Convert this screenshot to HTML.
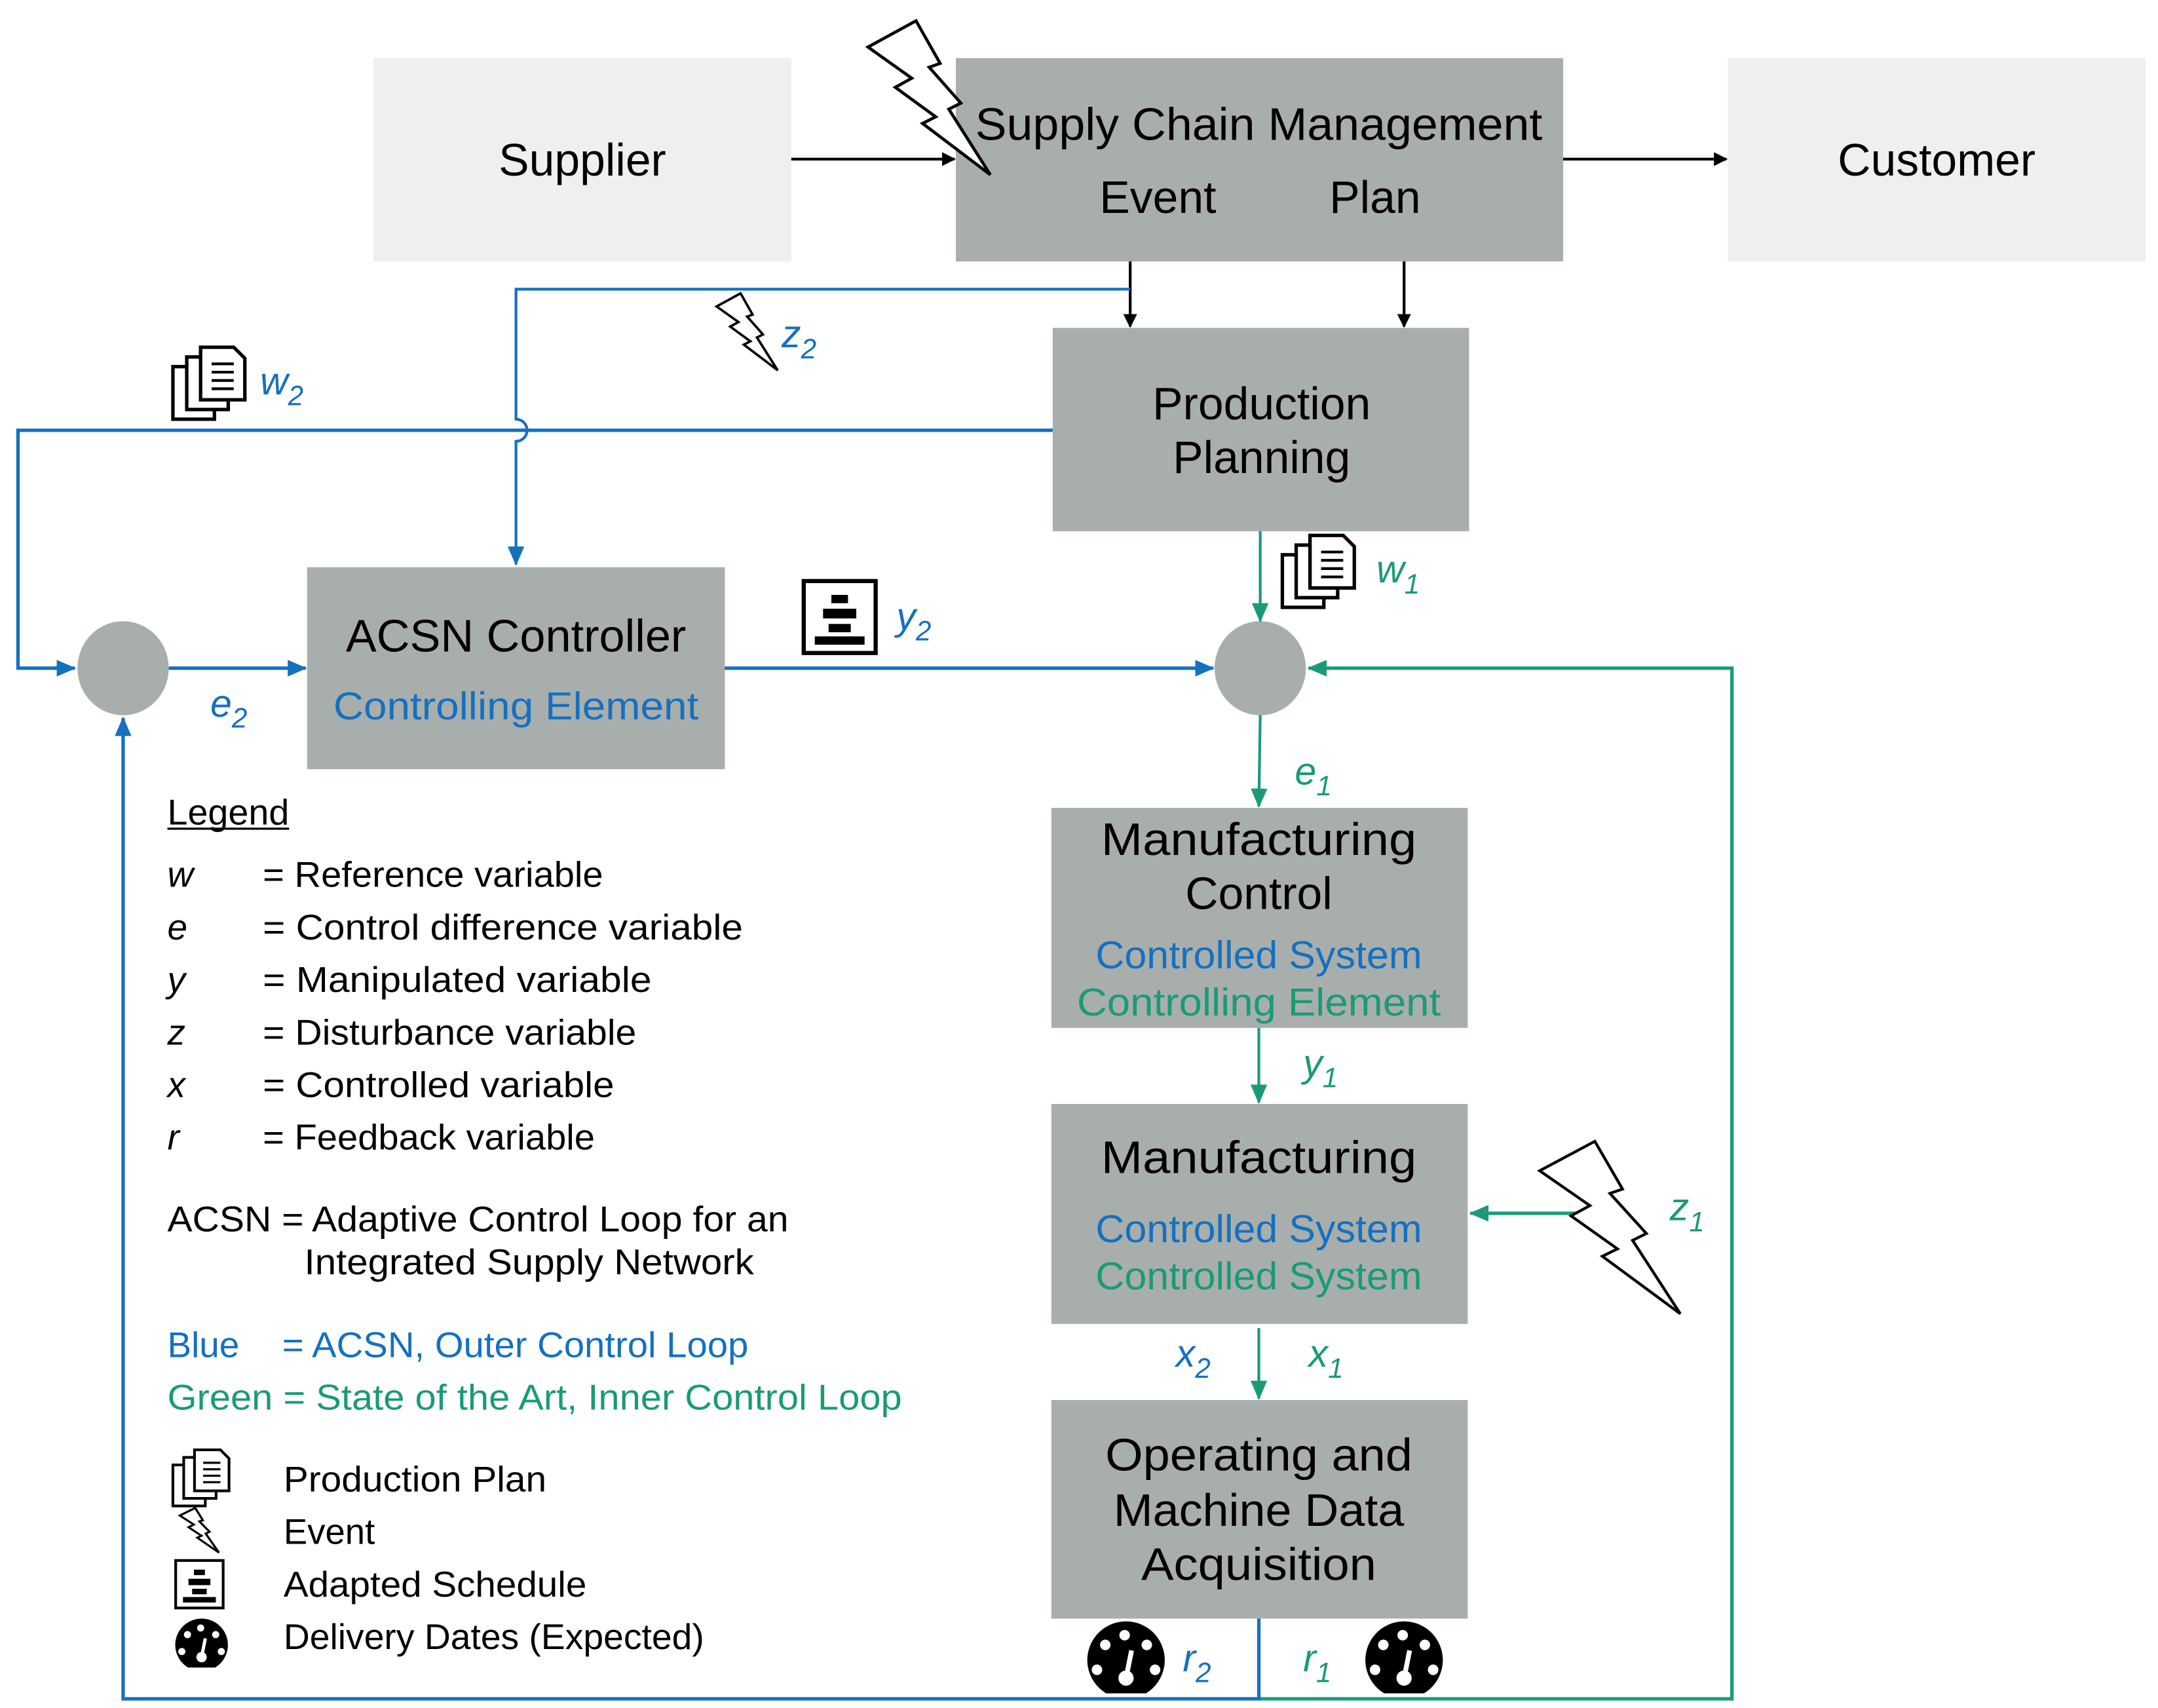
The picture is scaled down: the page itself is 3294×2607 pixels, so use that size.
<!DOCTYPE html>
<html><head><meta charset="utf-8"><style>
html,body{margin:0;padding:0;background:#fff;}
svg{display:block;}
text{font-family:"Liberation Sans",sans-serif;}
</style></head><body>
<svg width="3294" height="2607" viewBox="0 0 1560 1234.6" xmlns="http://www.w3.org/2000/svg">
<defs>
<marker id="ak" markerWidth="10" markerHeight="10" refX="9" refY="5" orient="auto" markerUnits="userSpaceOnUse"><path d="M0,0 L10,5 L0,10 z" fill="#000"/></marker>
<marker id="ab" markerWidth="14" markerHeight="12" refX="13" refY="6" orient="auto" markerUnits="userSpaceOnUse"><path d="M0,0 L14,6 L0,12 z" fill="#1570c0"/></marker>
<marker id="ag" markerWidth="14" markerHeight="12" refX="13" refY="6" orient="auto" markerUnits="userSpaceOnUse"><path d="M0,0 L14,6 L0,12 z" fill="#1a9a78"/></marker>
<g id="docs"><rect x="0" y="14" width="30" height="38" fill="#fff" stroke="#000" stroke-width="2.5"/><rect x="10" y="7" width="30" height="38" fill="#fff" stroke="#000" stroke-width="2.5"/><path d="M20,0 L44,0 L52,8 L52,38 L20,38 z" fill="#fff" stroke="#000" stroke-width="2.5"/><path d="M28,12h16M28,18h16M28,24h16M28,30h16" stroke="#000" stroke-width="2"/></g>
<g id="sched"><rect x="0" y="0" width="52" height="52" fill="#fff" stroke="#000" stroke-width="3"/><rect x="20" y="10" width="12" height="6"/><rect x="14" y="20" width="24" height="7"/><rect x="18" y="31" width="16" height="6"/><rect x="8" y="40" width="36" height="6"/></g>
<g id="gauge"><path d="M14.6,52 A28,28 0 1 1 43.4,52 Z" fill="#000"/><circle cx="14" cy="17" r="3.8" fill="#fff"/><circle cx="28" cy="10" r="3.8" fill="#fff"/><circle cx="44" cy="17" r="3.8" fill="#fff"/><circle cx="8" cy="35" r="3.8" fill="#fff"/><circle cx="50" cy="35" r="3.8" fill="#fff"/><path d="M29,41 L33,21" stroke="#fff" stroke-width="3.5"/><circle cx="29" cy="41" r="5.5" fill="#fff"/></g>
<path id="bolt" d="M0,19 L34.7,0 L52.1,30.8 L44.2,33.6 L67.1,59.5 L58.4,63.9 L88.4,111.3 L39.4,74.2 L48.9,69.4 L19.7,48.1 L31.6,41.5 Z" fill="#fff" stroke="#000" stroke-linejoin="miter"/>
</defs>

<!-- top boxes -->
<rect x="270" y="42" width="302" height="147" fill="#eeefee"/>
<rect x="691" y="42" width="439" height="147" fill="#a8aeac"/>
<rect x="1249" y="42" width="302" height="147" fill="#eeefee"/>
<text x="421" y="127" font-size="33" text-anchor="middle">Supplier</text>
<text x="910" y="101" font-size="33" text-anchor="middle" textLength="410" lengthAdjust="spacingAndGlyphs">Supply Chain Management</text>
<text x="837" y="154" font-size="33" text-anchor="middle">Event</text>
<text x="994" y="154" font-size="33" text-anchor="middle">Plan</text>
<text x="1400" y="127" font-size="33" text-anchor="middle">Customer</text>
<line x1="572" y1="115" x2="690" y2="115" stroke="#000" stroke-width="2" marker-end="url(#ak)"/>
<line x1="1130" y1="115" x2="1248" y2="115" stroke="#000" stroke-width="2" marker-end="url(#ak)"/>
<use href="#bolt" x="627.5" y="15" stroke-width="2.2"/>
<line x1="817" y1="189" x2="817" y2="236" stroke="#000" stroke-width="2" marker-end="url(#ak)"/>
<line x1="1015" y1="189" x2="1015" y2="236" stroke="#000" stroke-width="2" marker-end="url(#ak)"/>

<!-- production planning -->
<rect x="761" y="237" width="301" height="147" fill="#a8aeac"/>
<text x="912" y="303" font-size="33" text-anchor="middle">Production</text>
<text x="912" y="342" font-size="33" text-anchor="middle">Planning</text>

<!-- blue z2 line -->
<path d="M817,209 L373,209 L373,303 A8,8 0 0 1 373,319 L373,408" fill="none" stroke="#1570c0" stroke-width="2" marker-end="url(#ab)"/>
<use href="#bolt" transform="translate(518,212) scale(0.5)" stroke-width="3.5"/>
<text x="565" y="251" font-size="28" font-style="italic" fill="#1570c0">z<tspan font-size="20" dy="8">2</tspan></text>

<!-- w2 line -->
<path d="M761,311 L13,311 L13,483 L54,483" fill="none" stroke="#1570c0" stroke-width="2.5" marker-end="url(#ab)"/>
<use href="#docs" x="125" y="251"/>
<text x="188" y="285" font-size="28" font-style="italic" fill="#1570c0">w<tspan font-size="20" dy="8">2</tspan></text>

<!-- circles -->
<ellipse cx="89" cy="483" rx="33" ry="34" fill="#a8aeac"/>
<ellipse cx="911" cy="483" rx="33" ry="34" fill="#a8aeac"/>
<line x1="122" y1="483" x2="221" y2="483" stroke="#1570c0" stroke-width="2.5" marker-end="url(#ab)"/>
<text x="152" y="518" font-size="28" font-style="italic" fill="#1570c0">e<tspan font-size="20" dy="8">2</tspan></text>

<!-- ACSN -->
<rect x="222" y="410" width="302" height="146" fill="#a8aeac"/>
<text x="373" y="471" font-size="33" text-anchor="middle" textLength="246" lengthAdjust="spacingAndGlyphs">ACSN Controller</text>
<text x="373" y="520" font-size="28" text-anchor="middle" fill="#1570c0" textLength="264" lengthAdjust="spacingAndGlyphs">Controlling Element</text>
<line x1="524" y1="483" x2="877" y2="483" stroke="#1570c0" stroke-width="2.5" marker-end="url(#ab)"/>
<use href="#sched" x="581" y="420"/>
<text x="648" y="455" font-size="28" font-style="italic" fill="#1570c0">y<tspan font-size="20" dy="8">2</tspan></text>

<!-- w1 -->
<line x1="911" y1="384" x2="911" y2="449" stroke="#1a9a78" stroke-width="2" marker-end="url(#ag)"/>
<use href="#docs" x="927" y="387"/>
<text x="995" y="421" font-size="28" font-style="italic" fill="#1a9a78">w<tspan font-size="20" dy="8">1</tspan></text>

<!-- green feedback -->
<path d="M911,1228 L1252,1228 L1252,483 L946,483" fill="none" stroke="#1a9a78" stroke-width="2.5" marker-end="url(#ag)"/>
<line x1="911" y1="517" x2="910" y2="583" stroke="#1a9a78" stroke-width="2" marker-end="url(#ag)"/>
<text x="936" y="567" font-size="28" font-style="italic" fill="#1a9a78">e<tspan font-size="20" dy="8">1</tspan></text>

<!-- Manufacturing control -->
<rect x="760" y="584" width="301" height="159" fill="#a8aeac"/>
<text x="910" y="618" font-size="33" text-anchor="middle" textLength="228" lengthAdjust="spacingAndGlyphs">Manufacturing</text>
<text x="910" y="657" font-size="33" text-anchor="middle">Control</text>
<text x="910" y="700" font-size="28" text-anchor="middle" fill="#1570c0" textLength="236" lengthAdjust="spacingAndGlyphs">Controlled System</text>
<text x="910" y="734" font-size="28" text-anchor="middle" fill="#1a9a78" textLength="263" lengthAdjust="spacingAndGlyphs">Controlling Element</text>
<line x1="910" y1="743" x2="910" y2="797" stroke="#1a9a78" stroke-width="2" marker-end="url(#ag)"/>
<text x="942" y="778" font-size="28" font-style="italic" fill="#1a9a78">y<tspan font-size="20" dy="8">1</tspan></text>

<!-- Manufacturing -->
<rect x="760" y="798" width="301" height="159" fill="#a8aeac"/>
<text x="910" y="848" font-size="33" text-anchor="middle" textLength="228" lengthAdjust="spacingAndGlyphs">Manufacturing</text>
<text x="910" y="898" font-size="28" text-anchor="middle" fill="#1570c0" textLength="236" lengthAdjust="spacingAndGlyphs">Controlled System</text>
<text x="910" y="932" font-size="28" text-anchor="middle" fill="#1a9a78" textLength="236" lengthAdjust="spacingAndGlyphs">Controlled System</text>
<line x1="1145" y1="877" x2="1063" y2="877" stroke="#1a9a78" stroke-width="2.5" marker-end="url(#ag)"/>
<use href="#bolt" transform="translate(1113,825) scale(1.15,1.12)" stroke-width="1.8"/>
<text x="1207" y="882" font-size="28" font-style="italic" fill="#1a9a78">z<tspan font-size="20" dy="8">1</tspan></text>

<line x1="910" y1="960" x2="910" y2="1011" stroke="#1a9a78" stroke-width="2" marker-end="url(#ag)"/>
<text x="850" y="988" font-size="28" font-style="italic" fill="#1570c0">x<tspan font-size="20" dy="8">2</tspan></text>
<text x="946" y="988" font-size="28" font-style="italic" fill="#1a9a78">x<tspan font-size="20" dy="8">1</tspan></text>

<!-- Operating -->
<rect x="760" y="1012" width="301" height="158" fill="#a8aeac"/>
<text x="910" y="1063" font-size="33" text-anchor="middle" textLength="222" lengthAdjust="spacingAndGlyphs">Operating and</text>
<text x="910" y="1103" font-size="33" text-anchor="middle" textLength="210" lengthAdjust="spacingAndGlyphs">Machine Data</text>
<text x="910" y="1142" font-size="33" text-anchor="middle" textLength="170" lengthAdjust="spacingAndGlyphs">Acquisition</text>

<path d="M910,1170 L910,1228 L89,1228 L89,519" fill="none" stroke="#1570c0" stroke-width="2.5" marker-end="url(#ab)"/>
<use href="#gauge" x="785" y="1172"/>
<use href="#gauge" x="986" y="1172"/>
<text x="855" y="1208" font-size="28" font-style="italic" fill="#1570c0">r<tspan font-size="20" dy="8">2</tspan></text>
<text x="942" y="1208" font-size="28" font-style="italic" fill="#1a9a78">r<tspan font-size="20" dy="8">1</tspan></text>

<!-- Legend -->
<g font-size="26">
<text x="121" y="596" textLength="88" lengthAdjust="spacingAndGlyphs">Legend</text>
<line x1="121" y1="599" x2="209" y2="599" stroke="#000" stroke-width="1.5"/>
<text x="121" y="641" font-style="italic">w</text><text x="190" y="641" textLength="246" lengthAdjust="spacingAndGlyphs">= Reference variable</text>
<text x="121" y="679" font-style="italic">e</text><text x="190" y="679" textLength="347" lengthAdjust="spacingAndGlyphs">= Control difference variable</text>
<text x="121" y="717" font-style="italic">y</text><text x="190" y="717" textLength="281" lengthAdjust="spacingAndGlyphs">= Manipulated variable</text>
<text x="121" y="755" font-style="italic">z</text><text x="190" y="755" textLength="270" lengthAdjust="spacingAndGlyphs">= Disturbance variable</text>
<text x="121" y="793" font-style="italic">x</text><text x="190" y="793" textLength="254" lengthAdjust="spacingAndGlyphs">= Controlled variable</text>
<text x="121" y="831" font-style="italic">r</text><text x="190" y="831" textLength="240" lengthAdjust="spacingAndGlyphs">= Feedback variable</text>
<text x="121" y="890" textLength="449" lengthAdjust="spacingAndGlyphs">ACSN = Adaptive Control Loop for an</text>
<text x="220" y="921" textLength="325" lengthAdjust="spacingAndGlyphs">Integrated Supply Network</text>
<text x="121" y="981" fill="#1570c0" textLength="52" lengthAdjust="spacingAndGlyphs">Blue</text><text x="204" y="981" fill="#1570c0" textLength="337" lengthAdjust="spacingAndGlyphs">= ACSN, Outer Control Loop</text>
<text x="121" y="1019" fill="#1a9a78" textLength="531" lengthAdjust="spacingAndGlyphs">Green = State of the Art, Inner Control Loop</text>
<text x="205" y="1078" textLength="190" lengthAdjust="spacingAndGlyphs">Production Plan</text>
<text x="205" y="1116" textLength="66" lengthAdjust="spacingAndGlyphs">Event</text>
<text x="205" y="1154" textLength="219" lengthAdjust="spacingAndGlyphs">Adapted Schedule</text>
<text x="205" y="1192" textLength="304" lengthAdjust="spacingAndGlyphs">Delivery Dates (Expected)</text>
</g>
<use href="#docs" transform="translate(125,1048) scale(0.78)"/>
<use href="#bolt" transform="translate(130,1090) scale(0.32,0.29)" stroke-width="5"/>
<use href="#sched" transform="translate(127,1128) scale(0.66)"/>
<use href="#gauge" transform="translate(126,1170) scale(0.68)"/>
</svg>
</body></html>
